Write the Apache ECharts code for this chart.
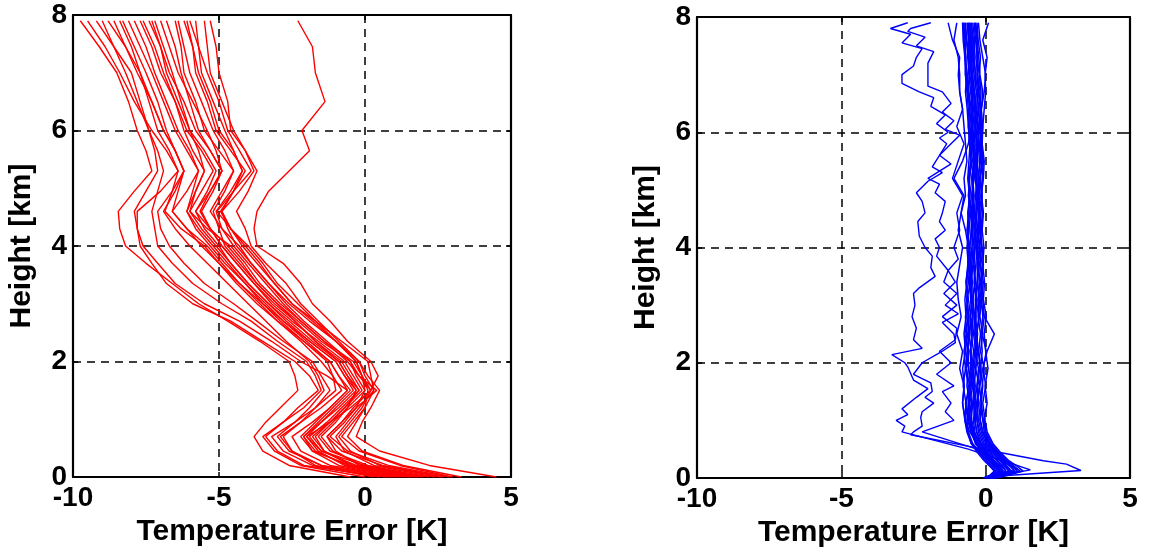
<!DOCTYPE html>
<html>
<head>
<meta charset="utf-8">
<script src="https://cdn.jsdelivr.net/npm/echarts@6/dist/echarts.min.js"></script>
<style>html,body{margin:0;padding:0;background:#fff}#c{width:1149px;height:555px}</style>
</head>
<body>
<div id="c"></div>
<script>
// ---- axis ticks ----
const xTicks = [-10, -5, 0, 5];
const yTicks = [0, 2, 4, 6, 8];

// ---- left panel: red profiles (x = temperature error at heights H_RED) ----
const H_RED = [0, 0.2, 0.45, 0.7, 0.95, 1.2, 1.5, 1.75, 2.0, 2.35, 2.7, 3.0, 3.35, 3.7, 4.0, 4.3, 4.6, 4.95, 5.3, 5.65, 6.0, 6.5, 7.0, 7.45, 7.9];
const red01 = [4.5, 2.2, 0.5, -0.3, -0.1, 0.2, 0.5, 0.1, -0.2, -0.9, -1.6, -2.2, -2.7, -3.4, -3.9, -4.1, -4.4, -4.0, -3.7, -4.1, -4.6, -4.7, -5.0, -5.1, -5.3];
const red02 = [3.0, 1.2, -0.2, -0.8, -0.4, 0.0, 0.3, 0.2, 0.1, -0.8, -1.7, -2.5, -3.1, -3.7, -4.2, -4.6, -4.9, -4.3, -3.8, -4.1, -4.5, -4.9, -5.3, -5.4, -5.5];
const red03 = [2.7, 0.6, -0.8, -1.3, -0.8, -0.3, 0.4, -0.2, -0.6, -1.4, -2.2, -2.8, -3.4, -4.0, -4.5, -4.9, -5.1, -4.6, -4.2, -4.5, -5.0, -5.3, -5.7, -5.9, -6.2];
const red04 = [2.0, 0.1, -1.2, -1.6, -1.1, -0.6, 0.0, -0.3, -0.5, -1.5, -2.3, -3.0, -3.7, -4.3, -4.8, -5.0, -5.2, -4.8, -4.5, -5.0, -5.5, -5.8, -6.2, -6.3, -6.5];
const red05 = [1.8, -0.3, -1.5, -1.9, -1.3, -0.8, -0.2, -0.5, -0.8, -1.7, -2.4, -3.1, -3.8, -4.4, -4.9, -5.3, -5.6, -5.2, -4.9, -5.1, -5.4, -5.9, -6.4, -6.7, -7.0];
const red06 = [1.5, -0.6, -1.7, -2.1, -1.5, -0.9, -0.3, -0.7, -1.0, -1.9, -2.7, -3.3, -4.0, -4.6, -5.0, -5.5, -5.8, -5.4, -5.1, -5.5, -6.0, -6.4, -6.8, -7.0, -7.3];
const red07 = [1.2, -0.7, -1.6, -2.0, -1.2, -0.5, 0.2, -0.1, -0.4, -1.4, -2.2, -2.9, -3.6, -4.1, -4.6, -5.4, -6.0, -5.8, -5.5, -5.9, -6.2, -6.5, -6.9, -7.2, -7.6];
const red08 = [1.0, -0.9, -1.8, -2.1, -1.6, -1.1, -0.5, -0.9, -1.2, -2.0, -2.8, -3.4, -4.1, -4.7, -5.2, -5.7, -6.1, -5.9, -5.7, -6.0, -6.4, -6.8, -7.2, -7.5, -7.9];
const red09 = [0.8, -1.5, -2.5, -2.9, -2.2, -1.5, -0.8, -1.1, -1.5, -2.2, -3.0, -3.6, -4.3, -4.9, -5.4, -6.1, -6.6, -6.4, -6.2, -6.5, -6.8, -7.1, -7.5, -7.9, -8.3];
const red10 = [0.5, -1.8, -2.8, -3.2, -2.4, -1.7, -1.0, -1.1, -1.3, -2.1, -2.9, -3.5, -4.3, -5.0, -5.5, -6.3, -6.85, -6.6, -6.4, -6.7, -7.1, -7.4, -7.7, -8.2, -8.8];
const red11 = [0.0, -2.2, -3.1, -3.5, -2.8, -2.1, -1.5, -1.7, -2.0, -3.0, -3.9, -4.9, -5.9, -6.6, -7.1, -7.2, -7.3, -7.1, -6.9, -7.1, -7.4, -7.7, -8.0, -8.6, -9.2];
const red12 = [-0.5, -2.6, -3.5, -3.8, -3.4, -2.9, -2.3, -2.4, -2.6, -3.6, -4.7, -5.7, -6.6, -7.5, -8.2, -8.4, -8.45, -7.9, -7.3, -7.5, -7.8, -8.1, -8.5, -9.1, -9.75];
const red13 = [2.4, 0.3, -0.7, -1.0, -0.6, -0.2, 0.3, 0.0, -0.2, -1.0, -1.9, -2.6, -3.3, -3.9, -4.4, -4.7, -4.9, -4.5, -4.2, -4.5, -4.8, -5.2, -5.6, -5.7, -5.8];
const red14 = [3.3, 1.3, -0.1, -0.6, -0.3, 0.0, 0.1, -0.1, -0.3, -1.0, -1.7, -2.3, -3.0, -3.5, -4.0, -4.6, -5.07, -4.5, -3.9, -4.3, -4.7, -5.0, -5.4, -5.7, -6.0];
const red15 = [1.4, -0.4, -1.4, -1.8, -1.2, -0.7, -0.1, -0.4, -0.7, -1.6, -2.5, -3.2, -3.8, -4.4, -4.9, -5.3, -5.65, -5.3, -4.9, -5.3, -5.7, -6.0, -6.3, -6.5, -6.8];
const red16 = [2.2, 0.0, -1.5, -2.0, -1.5, -1.0, -0.4, -0.7, -1.0, -1.9, -2.8, -3.5, -4.1, -4.8, -5.3, -5.8, -6.1, -5.8, -5.5, -5.7, -6.0, -6.3, -6.6, -6.9, -7.2];
const red17 = [0.3, -1.7, -2.5, -2.8, -2.2, -1.7, -1.2, -1.5, -1.8, -2.8, -3.7, -4.5, -5.5, -6.2, -6.7, -7.0, -7.1, -6.6, -6.2, -6.5, -6.9, -7.3, -7.8, -8.2, -8.6];
const red18 = [0.7, -2.1, -3.0, -3.4, -2.8, -2.3, -1.6, -1.9, -2.4, -3.5, -4.6, -5.9, -6.8, -7.3, -7.7, -7.8, -7.9, -7.5, -7.1, -7.2, -7.4, -7.8, -8.2, -8.6, -9.0];
const red19 = [1.1, -1.2, -2.2, -2.5, -1.8, -1.2, -0.6, -1.3, -2.2, -3.2, -4.3, -5.5, -6.5, -7.1, -7.6, -7.8, -7.8, -7.0, -6.4, -6.8, -7.3, -7.9, -8.4, -8.9, -9.5];
const red20 = [1.9, -0.1, -1.1, -1.5, -1.0, -0.6, -0.3, -0.6, -0.9, -1.7, -2.4, -3.0, -3.7, -4.2, -4.7, -5.3, -5.8, -5.3, -4.9, -5.3, -5.8, -6.2, -6.7, -7.0, -7.4];
const red21 = [2.6, 0.5, -0.5, -0.9, -0.5, -0.1, 0.2, -0.2, -0.5, -1.3, -2.1, -2.7, -3.3, -3.9, -4.3, -4.9, -5.3, -4.9, -4.5, -4.8, -5.2, -5.6, -6.0, -6.2, -6.4];
const red22 = [1.6, -0.5, -1.8, -2.2, -1.7, -1.2, -0.6, -0.9, -1.2, -2.1, -3.0, -3.7, -4.4, -5.0, -5.6, -6.1, -6.6, -6.1, -5.7, -6.1, -6.5, -6.9, -7.3, -7.7, -8.1];
const red23 = [0.9, -1.5, -2.6, -3.0, -2.4, -1.9, -1.4, -1.6, -1.9, -2.7, -3.4, -4.0, -4.7, -5.4, -6.0, -6.5, -6.9, -6.5, -6.2, -6.5, -6.9, -7.3, -7.7, -8.0, -8.4];
const red24 = [2.9, 0.8, -0.6, -1.2, -0.7, -0.3, 0.0, -0.1, -0.3, -1.0, -1.8, -2.5, -3.1, -3.6, -4.1, -4.6, -4.95, -4.5, -4.1, -4.6, -5.1, -5.4, -5.8, -5.9, -6.1];
const red25 = [1.3, -0.5, -1.4, -1.7, -1.2, -0.7, -0.2, -0.6, -0.9, -1.8, -2.6, -3.3, -4.0, -4.6, -5.1, -5.6, -6.0, -5.6, -5.2, -5.6, -6.1, -6.5, -7.0, -7.3, -7.7];
const red26 = [1.7, -0.2, -1.0, -1.3, -0.8, -0.4, 0.2, 0.45, 0.2, -0.6, -1.2, -1.8, -2.2, -2.8, -3.7, -3.8, -3.7, -3.3, -2.6, -1.9, -2.16, -1.37, -1.7, -1.8, -2.3];

// ---- right panel: blue profiles at heights H_BLUE ----
const H_BLUE = [0, 0.05, 0.12, 0.2, 0.3, 0.45, 0.6, 0.8, 1.0, 1.3, 1.6, 1.9, 2.2, 2.5, 2.8, 3.1, 3.4, 3.7, 4.0, 4.3, 4.6, 4.9, 5.2, 5.5, 5.8, 6.1, 6.4, 6.7, 7.0, 7.3, 7.6, 7.9];
const blue01 = [0.0, 0.3, 0.4, 0.3, 0.1, -0.15, -0.35, -0.5, -0.6, -0.55, -0.65, -0.6, -0.7, -0.62, -0.58, -0.66, -0.6, -0.55, -0.62, -0.58, -0.52, -0.6, -0.55, -0.5, -0.56, -0.6, -0.55, -0.62, -0.7, -0.68, -0.75, -0.78];
const blue02 = [0.1, 0.4, 0.6, 0.5, 0.3, 0.0, -0.2, -0.4, -0.48, -0.55, -0.45, -0.52, -0.5, -0.58, -0.46, -0.5, -0.55, -0.48, -0.44, -0.5, -0.46, -0.4, -0.45, -0.38, -0.42, -0.47, -0.5, -0.45, -0.55, -0.6, -0.58, -0.65];
const blue03 = [0.2, 0.5, 0.8, 0.7, 0.5, 0.25, 0.0, -0.15, -0.25, -0.3, -0.22, -0.35, -0.28, -0.3, -0.24, -0.33, -0.27, -0.3, -0.22, -0.28, -0.25, -0.2, -0.26, -0.18, -0.22, -0.25, -0.3, -0.28, -0.35, -0.4, -0.38, -0.45];
const blue04 = [0.3, 0.6, 1.0, 0.9, 0.7, 0.4, 0.15, -0.05, -0.1, -0.2, -0.12, -0.05, -0.18, -0.1, -0.2, -0.15, -0.08, -0.2, -0.14, -0.22, -0.16, -0.12, -0.2, -0.1, -0.15, -0.2, -0.18, -0.25, -0.22, -0.3, -0.28, -0.35];
const blue05 = [0.15, 0.35, 0.5, 0.4, 0.2, -0.05, -0.25, -0.38, -0.42, -0.36, -0.45, -0.4, -0.34, -0.42, -0.38, -0.44, -0.35, -0.4, -0.38, -0.32, -0.4, -0.35, -0.3, -0.36, -0.32, -0.38, -0.34, -0.4, -0.45, -0.42, -0.5, -0.55];
const blue06 = [-0.1, 0.2, 0.3, 0.15, -0.05, -0.3, -0.5, -0.62, -0.72, -0.68, -0.78, -0.7, -0.75, -0.66, -0.7, -0.62, -0.68, -0.6, -0.65, -0.58, -0.62, -0.55, -0.6, -0.52, -0.5, -0.56, -0.6, -0.65, -0.7, -0.72, -0.68, -0.8];
const blue07 = [0.4, 0.8, 1.3, 1.1, 0.8, 0.5, 0.25, 0.05, -0.02, -0.1, 0.0, -0.08, 0.02, -0.12, -0.05, -0.1, -0.15, -0.08, -0.12, -0.18, -0.1, -0.15, -0.08, -0.05, -0.12, -0.1, -0.15, -0.05, 0.0, -0.1, -0.2, -0.25];
const blue08 = [0.05, 0.25, 0.45, 0.35, 0.15, -0.1, -0.3, -0.42, -0.5, -0.45, -0.4, -0.48, -0.42, -0.5, -0.54, -0.46, -0.5, -0.44, -0.4, -0.46, -0.42, -0.48, -0.4, -0.34, -0.4, -0.36, -0.42, -0.48, -0.5, -0.55, -0.52, -0.58];
const blue09 = [0.25, 0.6, 0.9, 0.75, 0.5, 0.2, -0.05, -0.2, -0.3, -0.38, -0.3, -0.25, -0.35, -0.28, -0.36, -0.3, -0.4, -0.34, -0.3, -0.36, -0.3, -0.26, -0.32, -0.28, -0.24, -0.3, -0.36, -0.32, -0.4, -0.46, -0.42, -0.5];
const blue10 = [0.0, 0.3, 0.5, 0.4, 0.2, -0.1, -0.35, -0.48, -0.55, -0.6, -0.52, -0.58, -0.62, -0.55, -0.6, -0.52, -0.56, -0.5, -0.55, -0.48, -0.5, -0.45, -0.48, -0.42, -0.46, -0.5, -0.45, -0.52, -0.58, -0.62, -0.66, -0.7];
const blue11 = [0.3, 0.7, 1.1, 0.95, 0.65, 0.35, 0.1, -0.1, -0.18, -0.25, -0.3, -0.2, -0.25, -0.32, -0.22, -0.26, -0.2, -0.25, -0.3, -0.24, -0.2, -0.25, -0.18, -0.22, -0.15, -0.2, -0.26, -0.2, -0.28, -0.34, -0.3, -0.38];
const blue12 = [0.05, 0.35, 0.55, 0.45, 0.25, -0.05, -0.3, -0.5, -0.62, -0.7, -0.55, -0.68, -0.58, -0.72, -0.6, -0.65, -0.52, -0.62, -0.56, -0.64, -0.55, -0.5, -0.58, -0.46, -0.52, -0.44, -0.5, -0.58, -0.62, -0.55, -0.66, -0.72];
const blue13 = [0.2, 0.45, 0.7, 0.6, 0.4, 0.15, -0.1, -0.25, -0.3, -0.28, -0.2, -0.1, 0.05, 0.3, -0.05, -0.2, -0.28, -0.22, -0.3, -0.26, -0.2, -0.28, -0.24, -0.3, -0.26, -0.22, -0.18, -0.25, -0.3, -0.28, -0.35, -0.4];
const blue14 = [-0.05, 0.15, 0.3, 0.2, 0.0, -0.25, -0.5, -0.65, -0.72, -0.8, -0.74, -0.8, -0.7, -0.75, -0.68, -0.72, -0.65, -0.6, -0.56, -0.5, -0.46, -0.42, -0.48, -0.4, -0.45, -0.5, -0.55, -0.6, -0.65, -0.7, -0.72, -0.75];
const blue15 = [0.35, 0.7, 1.2, 1.0, 0.75, 0.45, 0.2, 0.0, -0.08, -0.15, -0.1, -0.18, -0.12, -0.16, -0.1, -0.14, -0.18, -0.12, -0.2, -0.15, -0.1, -0.16, -0.12, -0.08, -0.14, -0.1, -0.05, 0.0, -0.02, 0.05, -0.1, 0.1];
const blue16 = [0.1, 0.3, 0.45, 0.35, 0.15, -0.1, -0.3, -0.45, -0.52, -0.48, -0.56, -0.5, -0.54, -0.46, -0.52, -0.48, -0.55, -0.5, -0.6, -0.7, -0.85, -0.75, -1.1, -0.8, -0.6, -0.5, -0.45, -0.5, -0.48, -0.55, -0.6, -0.62];
const blue17 = [0.2, 0.5, 0.8, 0.65, 0.4, 0.1, -0.15, -0.3, -0.38, -0.42, -0.36, -0.44, -0.38, -0.34, -0.4, -0.45, -0.38, -0.42, -0.36, -0.4, -0.34, -0.3, -0.36, -0.3, -0.28, -0.34, -0.38, -0.42, -0.46, -0.5, -0.48, -0.54];
const blue18 = [0.25, 0.55, 0.85, 0.75, 0.55, 0.3, 0.05, -0.1, -0.2, -0.14, -0.22, -0.16, -0.24, -0.18, -0.26, -0.2, -0.12, -0.18, -0.24, -0.16, -0.22, -0.14, -0.2, -0.12, -0.18, -0.14, -0.2, -0.16, -0.22, -0.18, -0.26, -0.3];
const blue19 = [0.1, 0.4, 0.7, 0.55, 0.3, -0.05, -0.3, -0.5, -0.6, -0.66, -0.6, -0.7, -0.64, -0.58, -0.65, -0.6, -0.68, -0.62, -0.58, -0.64, -0.6, -0.56, -0.62, -0.58, -0.54, -0.6, -0.64, -0.7, -0.66, -0.72, -0.78, -0.8];
const blue20 = [0.15, 0.4, 0.6, 0.5, 0.3, 0.05, -0.18, -0.32, -0.36, -0.32, -0.4, -0.34, -0.3, -0.38, -0.33, -0.36, -0.3, -0.26, -0.32, -0.28, -0.34, -0.3, -0.25, -0.3, -0.34, -0.28, -0.32, -0.38, -0.35, -0.42, -0.45, -0.5];
const blue21 = [0.3, 0.65, 1.0, 0.85, 0.6, 0.35, 0.12, 0.0, -0.05, 0.05, -0.02, 0.08, 0.0, -0.05, 0.02, -0.08, -0.04, -0.1, -0.06, -0.12, -0.08, -0.14, -0.1, -0.16, -0.12, -0.18, -0.15, -0.1, -0.2, -0.24, -0.3, -0.35];
const blue22 = [0.0, 0.2, 0.35, 0.25, 0.05, -0.2, -0.45, -0.6, -0.65, -0.58, -0.5, -0.45, -0.52, -0.48, -0.44, -0.5, -0.46, -0.52, -0.48, -0.44, -0.4, -0.46, -0.42, -0.38, -0.44, -0.4, -0.46, -0.42, -0.5, -0.52, -0.56, -0.6];
const blue23 = [0.15, 0.35, 0.6, 0.5, 0.3, 0.0, -0.3, -0.55, -0.7, -0.8, -0.75, -0.9, -0.8, -1.0, -0.85, -0.95, -1.0, -0.9, -0.8, -0.95, -0.85, -0.7, -0.75, -0.65, -0.7, -0.75, -0.8, -0.9, -0.9, -0.95, -1.1, -1.0];

// ---- right panel: outlying blue profiles (own height lists) ----
const outA_h = [7.9, 7.8, 7.7, 7.55, 7.45, 7.3, 7.15, 7.0, 6.85, 6.7, 6.6, 6.45, 6.3, 6.15, 6.0, 5.9, 5.8, 5.6, 5.4, 5.3, 5.15, 4.95, 4.8, 4.6, 4.45, 4.2, 4.0, 3.85, 3.65, 3.5, 3.3, 3.2, 3.0, 2.8, 2.6, 2.4, 2.25, 2.14, 2.0, 1.93, 1.7, 1.55, 1.4, 1.2, 1.1, 1.0, 0.9, 0.8, 0.5, 0.3, 0.14, 0.08, 0.0];
const outA_x = [-2.7, -3.3, -2.6, -2.9, -2.2, -2.4, -2.5, -2.9, -2.9, -2.3, -1.8, -1.9, -1.4, -1.7, -1.3, -1.6, -1.35, -1.6, -1.85, -1.5, -2.0, -2.4, -2.2, -2.1, -2.35, -2.3, -2.1, -1.85, -1.9, -1.75, -2.3, -2.5, -2.45, -2.55, -2.4, -2.5, -2.2, -3.25, -2.8, -2.7, -2.5, -2.0, -2.4, -2.9, -2.7, -3.1, -2.8, -2.9, -0.6, 0.6, 1.55, 0.9, 0.2];
const outB_h = [7.9, 7.8, 7.75, 7.65, 7.5, 7.4, 7.2, 7.0, 6.8, 6.7, 6.5, 6.35, 6.2, 6.05, 5.95, 5.8, 5.6, 5.45, 5.2, 5.1, 4.95, 4.8, 4.6, 4.45, 4.3, 4.15, 4.0, 3.85, 3.6, 3.4, 3.2, 3.0, 2.85, 2.7, 2.5, 2.35, 2.2, 2.0, 1.8, 1.65, 1.5, 1.4, 1.3, 1.15, 1.05, 0.9, 0.8, 0.75, 0.5, 0.3, 0.24, 0.13, 0.04, 0.0];
const outB_x = [-1.9, -2.6, -2.7, -2.1, -2.4, -1.8, -2.0, -2.0, -2.0, -1.5, -1.2, -1.5, -1.1, -1.4, -0.9, -1.2, -1.6, -1.2, -2.0, -1.6, -1.75, -1.4, -1.5, -1.6, -1.4, -1.75, -1.6, -1.7, -1.3, -1.45, -1.0, -1.4, -0.95, -1.5, -1.1, -1.05, -1.5, -2.2, -2.5, -1.9, -1.85, -2.1, -1.8, -2.2, -2.25, -2.2, -2.5, -2.6, -0.1, 2.0, 2.8, 3.3, 0.6, 0.1];
const outD_h = [7.9, 7.6, 7.3, 7.0, 6.7, 6.4, 6.1, 5.8, 5.5, 5.2, 4.9, 4.6, 4.3, 4.0, 3.8, 3.6, 3.4, 3.2, 3.0, 2.8, 2.6, 2.4, 2.2, 2.0, 1.8, 1.6, 1.5, 1.3, 1.15, 1.0, 0.8, 0.5, 0.3, 0.15, 0.05, 0.0];
const outD_x = [-1.3, -1.15, -0.9, -0.95, -0.9, -0.8, -1.0, -0.75, -0.95, -1.15, -0.8, -1.0, -0.9, -1.1, -0.95, -1.3, -1.05, -1.45, -1.0, -1.5, -1.0, -1.05, -1.6, -1.2, -1.7, -1.1, -1.5, -1.2, -1.4, -1.1, -2.2, -0.3, 0.5, 1.1, 0.4, 0.1];

// ---- build ----
const redProfiles = [red01, red02, red03, red04, red05, red06, red07, red08, red09, red10, red11, red12, red13,
  red14, red15, red16, red17, red18, red19, red20, red21, red22, red23, red24, red25, red26];
const blueProfiles = [blue01, blue02, blue03, blue04, blue05, blue06, blue07, blue08, blue09, blue10, blue11, blue12,
  blue13, blue14, blue15, blue16, blue17, blue18, blue19, blue20, blue21, blue22, blue23];
const blueOutliers = [[outA_h, outA_x], [outB_h, outB_x], [outD_h, outD_x]];

const FONT = '"Liberation Sans", Arial, Helvetica, sans-serif';
const series = [];
redProfiles.forEach((p) => {
  series.push({ type: 'line', xAxisIndex: 0, yAxisIndex: 0, showSymbol: false, silent: true,
    lineStyle: { color: '#ff0000', width: 1.4 }, data: H_RED.map((h, i) => [p[i], h]) });
});
blueProfiles.forEach((p) => {
  series.push({ type: 'line', xAxisIndex: 1, yAxisIndex: 1, showSymbol: false, silent: true,
    lineStyle: { color: '#0000ff', width: 1.5 }, data: H_BLUE.map((h, i) => [p[i], h]) });
});
blueOutliers.forEach(([hs, xs]) => {
  series.push({ type: 'line', xAxisIndex: 1, yAxisIndex: 1, showSymbol: false, silent: true,
    lineStyle: { color: '#0000ff', width: 1.4 }, data: hs.map((h, i) => [xs[i], h]) });
});

function mainX(grid) {
  return { type: 'value', gridIndex: grid, position: 'bottom', min: xTicks[0], max: xTicks[xTicks.length - 1], interval: 5,
    name: 'Temperature Error [K]', nameLocation: 'middle', nameGap: 39,
    nameTextStyle: { fontSize: 30, fontWeight: 'bold', color: '#000', fontFamily: FONT },
    axisLine: { onZero: false, lineStyle: { color: '#000', width: 2.2 } },
    axisTick: { inside: true, length: 5, lineStyle: { color: '#000', width: 1.5 } },
    splitLine: { show: true, lineStyle: { color: '#000', width: 1.5, type: [8, 6] } },
    axisLabel: { margin: 7, fontSize: 28, fontWeight: 'bold', color: '#000', fontFamily: FONT } };
}
function mainY(grid) {
  return { type: 'value', gridIndex: grid, position: 'left', min: yTicks[0], max: yTicks[yTicks.length - 1], interval: 2,
    name: 'Height [km]', nameLocation: 'middle', nameGap: 36,
    nameTextStyle: { fontSize: 30, fontWeight: 'bold', color: '#000', fontFamily: FONT },
    axisLine: { onZero: false, lineStyle: { color: '#000', width: 2.2 } },
    axisTick: { inside: true, length: 5, lineStyle: { color: '#000', width: 1.5 } },
    splitLine: { show: true, lineStyle: { color: '#000', width: 1.5, type: [8, 6] } },
    axisLabel: { margin: 6, fontSize: 28, fontWeight: 'bold', color: '#000', fontFamily: FONT } };
}
function boxX(grid) {
  return { type: 'value', gridIndex: grid, position: 'top', min: -10, max: 5, interval: 5,
    axisLine: { onZero: false, lineStyle: { color: '#000', width: 1.8 } },
    axisTick: { inside: true, length: 5, lineStyle: { color: '#000', width: 1.5 } },
    axisLabel: { show: false }, splitLine: { show: false } };
}
function boxY(grid) {
  return { type: 'value', gridIndex: grid, position: 'right', min: 0, max: 8, interval: 2,
    axisLine: { onZero: false, lineStyle: { color: '#000', width: 2.2 } },
    axisTick: { inside: true, length: 5, lineStyle: { color: '#000', width: 1.5 } },
    axisLabel: { show: false }, splitLine: { show: false } };
}

const chart = echarts.init(document.getElementById('c'), null, { renderer: 'canvas' });
chart.setOption({
  animation: false,
  backgroundColor: '#fff',
  grid: [
    { left: 73, right: 638, top: 15, bottom: 78 },
    { left: 697, right: 19, top: 17, bottom: 77 }
  ],
  xAxis: [mainX(0), mainX(1), boxX(0), boxX(1)],
  yAxis: [mainY(0), mainY(1), boxY(0), boxY(1)],
  series: series
});
</script>
</body>
</html>
